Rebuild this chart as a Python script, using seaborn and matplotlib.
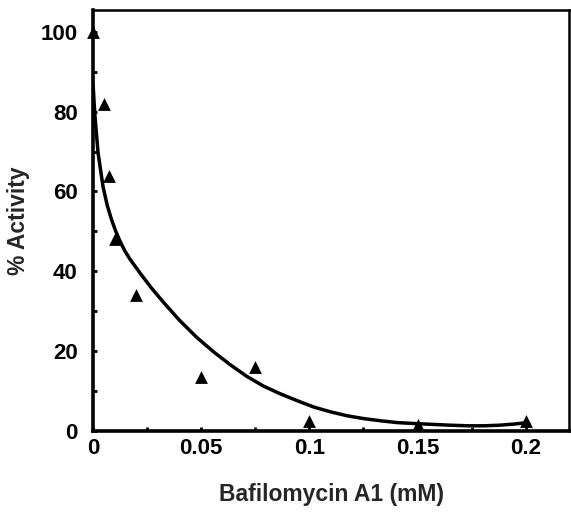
import numpy as np
import matplotlib
matplotlib.use("Agg")
import matplotlib.pyplot as plt
import pandas as pd
import seaborn as sns
from matplotlib.ticker import MultipleLocator

# measured points (Bafilomycin A1 in mM, % activity)
conc = [0.0, 0.005, 0.0075, 0.01, 0.02, 0.05, 0.075, 0.1, 0.15, 0.2]
activity = [100, 82, 64, 48, 34, 13.5, 16, 2.5, 1.5, 2.5]

# fitted curve
fit_x = [0.0, 0.0005, 0.001, 0.0023, 0.0046, 0.0065, 0.0085, 0.0105, 0.0125,
         0.0147, 0.0171, 0.0218, 0.027, 0.0326, 0.040, 0.048, 0.056, 0.0634,
         0.071, 0.0789, 0.087, 0.0943, 0.102, 0.1097, 0.1175, 0.1251, 0.133,
         0.1406, 0.149, 0.157, 0.165, 0.173, 0.181, 0.188, 0.195, 0.2007]
fit_y = [87, 82, 78, 69.7, 61.2, 56.6, 53.0, 50.0, 47.5,
         45.1, 43.0, 39.5, 35.8, 32.2, 27.7, 23.4, 19.7, 16.6,
         13.7, 11.2, 9.2, 7.6, 6.0, 4.8, 3.8, 3.1, 2.55,
         2.1, 1.85, 1.65, 1.45, 1.3, 1.3, 1.45, 1.75, 2.1]

df = pd.DataFrame({"conc": conc, "activity": activity})
fit = pd.DataFrame({"x": fit_x, "y": fit_y})

sns.set_style("ticks")
plt.rcParams["font.family"] = ["Liberation Sans", "DejaVu Sans"]

fig = plt.figure(figsize=(5.71, 5.18), dpi=100)
ax = fig.add_axes([0.163, 0.168, 0.8335, 0.813])

sns.lineplot(data=fit, x="x", y="y", color="black", linewidth=2.5,
             estimator=None, ax=ax)
sns.scatterplot(data=df, x="conc", y="activity", marker="^", color="black",
                s=85, edgecolor="black", linewidth=0, clip_on=False, zorder=5, ax=ax)

ax.set_xlim(0, 0.22)
ax.set_ylim(0, 105.5)
ax.xaxis.set_minor_locator(MultipleLocator(0.025))
ax.yaxis.set_major_locator(MultipleLocator(20))
ax.yaxis.set_minor_locator(MultipleLocator(10))
ax.set_xticks([0, 0.05, 0.1, 0.15, 0.2])
ax.set_xticklabels(["0", "0.05", "0.1", "0.15", "0.2"])
ax.tick_params(which="both", direction="in", length=3, width=2, color="black",
               labelsize=16, labelcolor="black")
ax.tick_params(axis="x", pad=5)
ax.tick_params(axis="y", pad=11)
for lab in ax.get_xticklabels() + ax.get_yticklabels():
    lab.set_fontweight("bold")

for side in ["left", "bottom"]:
    ax.spines[side].set_linewidth(2.6)
for side in ["top", "right"]:
    ax.spines[side].set_linewidth(1.8)
    ax.spines[side].set_visible(True)
for sp in ax.spines.values():
    sp.set_color("black")

ax.set_xlabel("Bafilomycin A1 (mM)", fontsize=16.5, fontweight="bold", labelpad=17)
ax.set_ylabel("% Activity", fontsize=16.5, fontweight="bold", labelpad=8)

fig.savefig("out.png", dpi=100, facecolor="white")
